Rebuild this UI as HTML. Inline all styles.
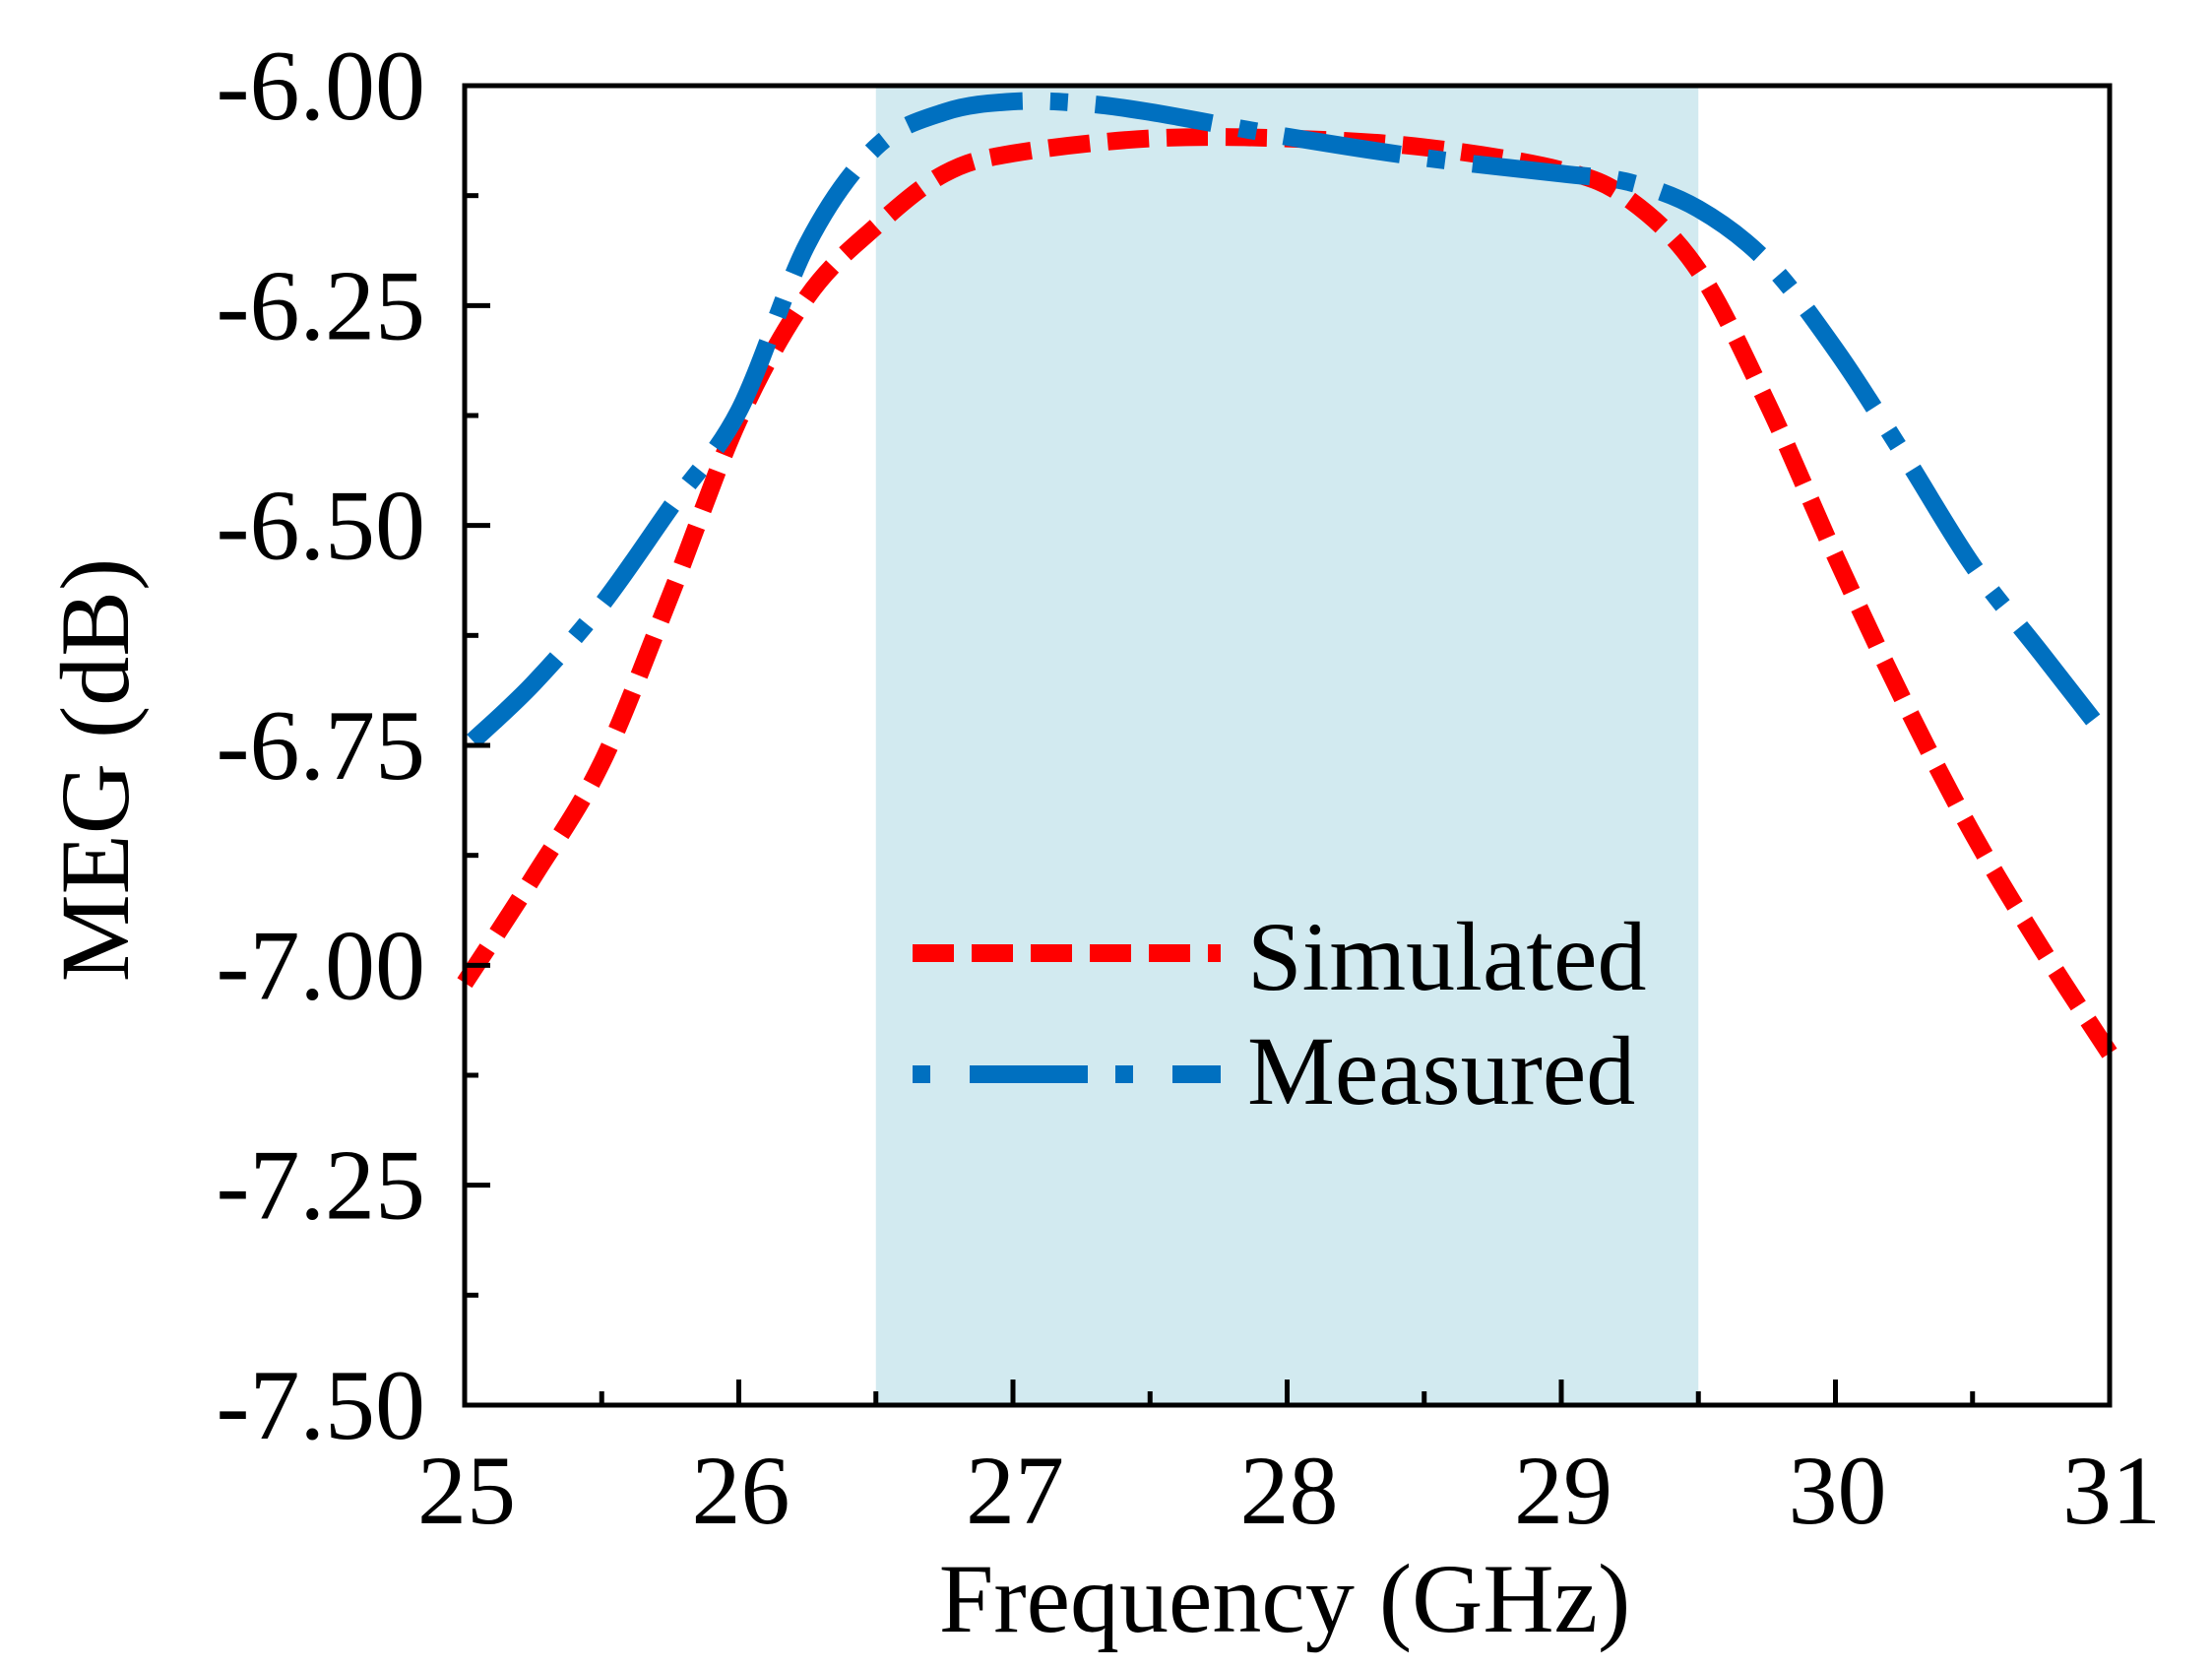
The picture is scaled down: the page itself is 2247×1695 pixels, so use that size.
<!DOCTYPE html>
<html><head><meta charset="utf-8"><style>
html,body{margin:0;padding:0;background:#fff;}
svg{display:block;}
text{font-family:"Liberation Serif",serif;fill:#000;}
</style></head><body>
<svg id="chart" width="2247" height="1695" viewBox="0 0 2247 1695" xmlns="http://www.w3.org/2000/svg">
<g id="shade"></g><g id="series"></g><g id="axes"></g><g id="legend"></g>
</svg>
<script>
const freqs=[25,25.25,25.5,25.75,26,26.25,26.5,26.75,27,27.5,28,28.5,29,29.25,29.5,29.75,30,30.25,30.5,30.75,31];
const simulated=[-7.02,-6.90,-6.77,-6.58,-6.38,-6.24,-6.16,-6.10,-6.077,-6.06,-6.06,-6.07,-6.096,-6.13,-6.21,-6.36,-6.535,-6.70,-6.85,-6.98,-7.10];
const measuredFreqs=[25.03,25.25,25.5,25.75,26,26.25,26.5,26.75,27,27.25,27.5,28,28.5,29,29.25,29.5,29.75,30,30.25,30.5,30.75,31];
const measured=[-6.745,-6.68,-6.59,-6.48,-6.37,-6.18,-6.07,-6.03,-6.018,-6.02,-6.03,-6.058,-6.082,-6.10,-6.11,-6.14,-6.20,-6.30,-6.42,-6.545,-6.645,-6.745];
const xTicks=[25,26,27,28,29,30,31];
const yTicks=[-6.00,-6.25,-6.50,-6.75,-7.00,-7.25,-7.50];
const band=[26.5,29.5];
const L=472,R=2143,T=87,B=1427,X0=25,X1=31,Y0=-7.5,Y1=-6.0;
const NS="http://www.w3.org/2000/svg";
const xs=v=>L+(v-X0)/(X1-X0)*(R-L);
const ys=v=>B-(v-Y0)/(Y1-Y0)*(B-T);
function mk(tag,attrs,parent){const e=document.createElementNS(NS,tag);for(const k in attrs)e.setAttribute(k,attrs[k]);parent.appendChild(e);return e;}
const shade=document.getElementById('shade'),series=document.getElementById('series'),axes=document.getElementById('axes'),legend=document.getElementById('legend');
const rect=mk('rect',{x:xs(band[0]),y:T,width:xs(band[1])-xs(band[0]),height:B-T,fill:'#d2eaf0'},shade);


function smooth(px,py){let d=`M${px[0]},${py[0]}`;for(let i=0;i<px.length-1;i++){const x0=px[Math.max(0,i-1)],y0=py[Math.max(0,i-1)],x1=px[i],y1=py[i],x2=px[i+1],y2=py[i+1],x3=px[Math.min(px.length-1,i+2)],y3=py[Math.min(px.length-1,i+2)];d+=` C${x1+(x2-x0)/6},${y1+(y2-y0)/6} ${x2-(x3-x1)/6},${y2-(y3-y1)/6} ${x2},${y2}`;}return d;}
const sim=mk('path',{d:smooth(freqs.map(xs),simulated.map(ys)),fill:'none',stroke:'#ff0000','stroke-width':18,'stroke-dasharray':'42 18'},series);


const mea=mk('path',{d:smooth(measuredFreqs.map(xs),measured.map(ys)),fill:'none',stroke:'#0070c0','stroke-width':18,'stroke-dasharray':'120 28 18 28'},series);


const frame=mk('rect',{x:L,y:T,width:R-L,height:B-T,fill:'none',stroke:'#000','stroke-width':5},axes);


for(let v=X0;v<=X1;v+=0.5){const major=Number.isInteger(v);const t=mk('line',{x1:xs(v),x2:xs(v),y1:B,y2:B-(major?26:14),stroke:'#000','stroke-width':5},axes);

}
for(let i=0;i<=12;i++){const v=Y0+i*0.125;const major=i%2===0;const t=mk('line',{x1:L,x2:L+(major?26:14),y1:ys(v),y2:ys(v),stroke:'#000','stroke-width':5},axes);

}
xTicks.forEach(v=>{const t=mk('text',{x:xs(v)+2,y:1547,'font-size':100,'text-anchor':'middle'},axes);t.textContent=String(v);

});
yTicks.forEach(v=>{const t=mk('text',{x:432,y:ys(v)+34,'font-size':102,'text-anchor':'end'},axes);t.textContent=v.toFixed(2);

});
const xt=mk('text',{x:1305,y:1657,'font-size':100,'text-anchor':'middle'},axes);xt.textContent='Frequency (GHz)';


const yt=mk('text',{x:0,y:0,'font-size':100,'text-anchor':'middle',transform:'translate(130,782) rotate(-90)'},axes);yt.textContent='MEG (dB)';


const l1=mk('line',{x1:927,x2:1240,y1:968,y2:968,stroke:'#ff0000','stroke-width':18,'stroke-dasharray':'42 18'},legend);


const t1=mk('text',{x:1267,y:1005,'font-size':100},legend);t1.textContent='Simulated';


const l2=mk('line',{x1:927,x2:1240,y1:1091,y2:1091,stroke:'#0070c0','stroke-width':18,'stroke-dasharray':'18 40 120 28'},legend);


const t2=mk('text',{x:1267,y:1121,'font-size':100},legend);t2.textContent='Measured';


</script>
</body></html>
